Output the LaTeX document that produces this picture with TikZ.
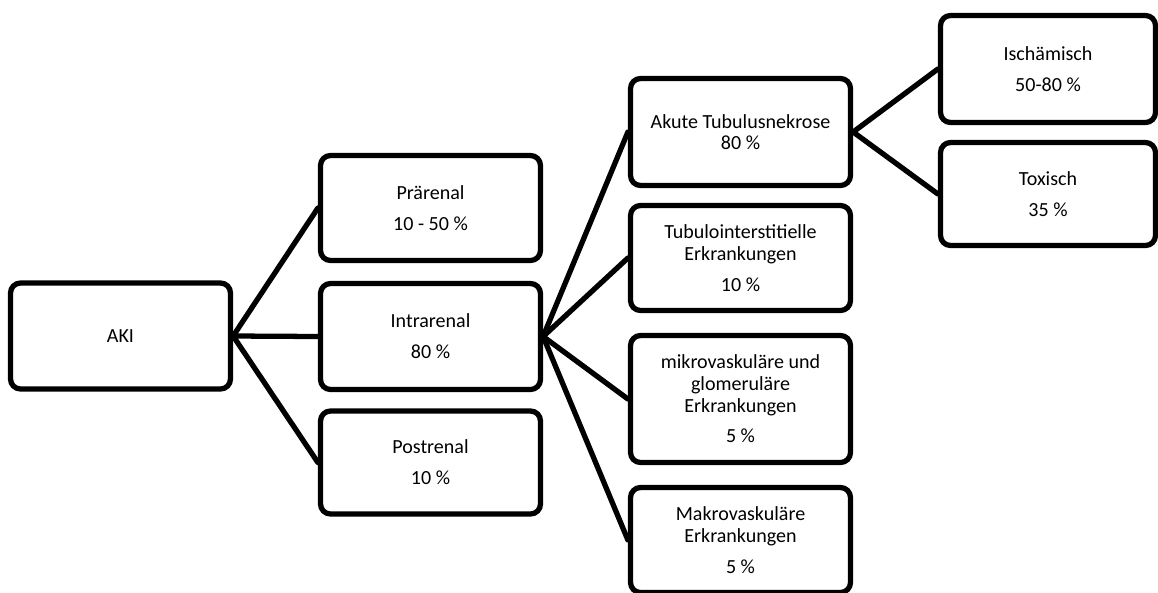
\documentclass[tikz,border=0pt]{standalone}
\usepackage{fontspec}
\setmainfont{Carlito}
\usetikzlibrary{positioning}

\begin{document}
\begin{tikzpicture}[x=0.02cm, y=-0.02cm, line width=3pt,
    box/.style={draw, rounded corners=0.2cm, align=center, inner sep=0pt,
        minimum width=4.4cm, minimum height=2.1cm, font=\fontsize{11.4}{12.3}\selectfont},
    link/.style={line cap=round}]
            \useasboundingbox (0,0) rectangle (1158,592);
            % first level
            \node[box, minimum height=2.12cm] (aki) at (120.5,336) {AKI};
            \node[box] (prae) at (430.5,208) {Prärenal\\[5.3pt]10 - 50 \%};
            \node[box, minimum height=2.12cm] (intra) at (430.5,336.5) {Intrarenal\\[5.3pt]80 \%};
            \node[box, minimum height=2.06cm] (post) at (430.5,462.5) {Postrenal\\[5.3pt]10 \%};
            % intrarenal
            \node[box, minimum height=2.14cm] (atn) at (740.5,132) {Akute Tubulusnekrose\\80 \%};
            \node[box] (tubint) at (740.5,258) {Tubulointerstitielle\\Erkrankungen\\[5.3pt]10 \%};
            \node[box, minimum height=2.54cm] (mikro) at (740.5,399) {mikrovaskuläre und\\glomeruläre\\Erkrankungen\\[5.3pt]5 \%};
            \node[box] (makro) at (740.5,540) {Makrovaskuläre\\Erkrankungen\\[5.3pt]5 \%};
            % tubulusnekrose
            \node[box, minimum width=4.3cm, minimum height=2.14cm] (isch) at (1048,69) {Ischämisch\\[5.3pt]50-80 \%};
            \node[box, minimum width=4.3cm, minimum height=2.06cm] (tox) at (1048,194) {Toxisch\\[5.3pt]35 \%};
            \foreach \n in {prae, intra, post}
                \draw[link] (aki.east) -- (\n.west);
            \foreach \n in {atn, tubint, mikro, makro}
                \draw[link] (intra.east) -- (\n.west);
            \foreach \n in {isch, tox}
                \draw[link] (atn.east) -- (\n.west);
        \end{tikzpicture}
\end{document}
